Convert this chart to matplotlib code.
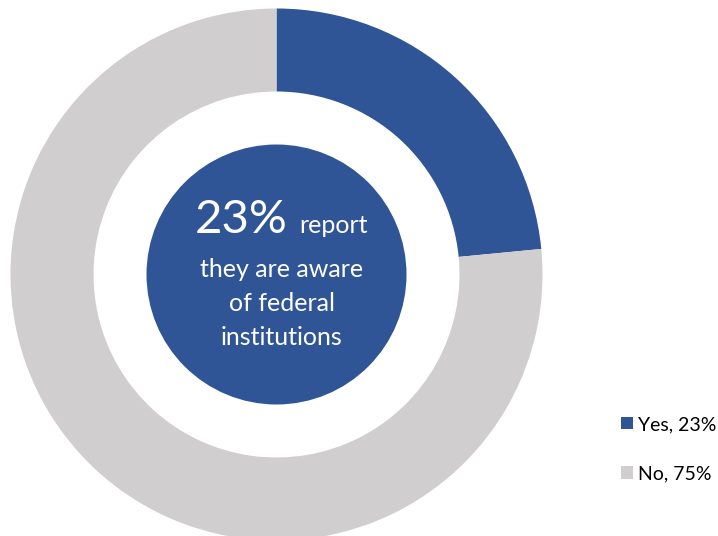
import matplotlib.pyplot as plt
from matplotlib.patches import Circle

# survey answers
labels = ["Yes, 23%", "No, 75%"]
values = [23, 75]
colors = ["#2F5597", "#D0CECE"]

headline = "23%"
headline_tail = "report"
caption_lines = ["they are aware", "of federal", "institutions"]

plt.rcParams['font.family'] = ['Lato', 'DejaVu Sans']

fig = plt.figure(figsize=(7.18, 5.36), dpi=100)
ax = fig.add_axes([0, 0, 1, 1])

# axes in pixel units so the ring sits where we want it
cx, cy = 276.5, 536 - 274.5
outer_r = 266
ring_w = 83

wedges, _ = ax.pie(values, colors=colors, radius=outer_r, center=(cx, cy),
                   startangle=90, counterclock=False,
                   wedgeprops=dict(width=ring_w, linewidth=0))

ax.add_patch(Circle((cx, cy), 130, facecolor=colors[0], edgecolor='none'))

ax.set_xlim(0, 718)
ax.set_ylim(0, 536)
ax.set_aspect('equal')
ax.axis('off')

# center label
ax.text(288, 536 - 233, headline, color='white', fontsize=34,
        ha='right', va='baseline')
ax.text(299, 536 - 233, headline_tail, color='white', fontsize=18,
        ha='left', va='baseline')
for i, line in enumerate(caption_lines):
    ax.text(282, 536 - (277 + 34 * i), line, color='white', fontsize=18,
            ha='center', va='baseline')

fig.legend(wedges, labels, loc='upper left', bbox_to_anchor=(621 / 718, 1 - 416 / 536),
           frameon=False, fontsize=14, handlelength=0.62, handleheight=0.62,
           handletextpad=0.25, labelspacing=1.65, borderpad=0, borderaxespad=0)

fig.savefig("out.png", dpi=100)
